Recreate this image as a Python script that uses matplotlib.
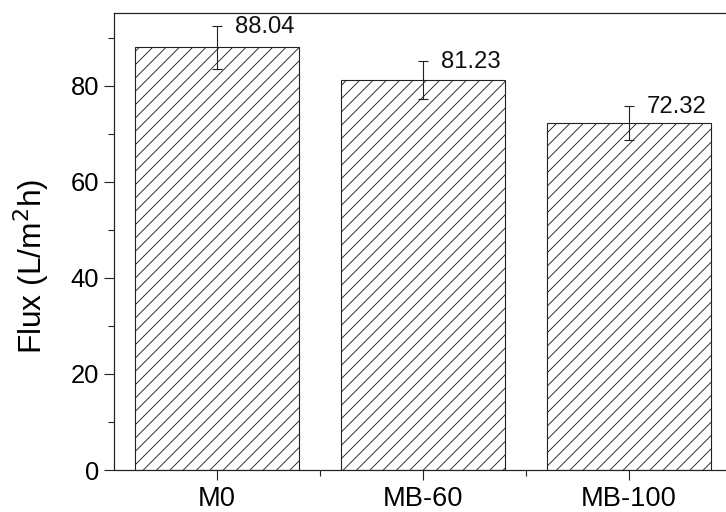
import matplotlib
matplotlib.use("Agg")
import matplotlib.pyplot as plt
from matplotlib.ticker import MultipleLocator, FixedLocator
import numpy as np

samples = ["M0", "MB-60", "MB-100"]
flux = [88.04, 81.23, 72.32]
flux_err = [4.5, 4.0, 3.5]
value_labels = ["88.04", "81.23", "72.32"]

plt.rcParams["font.family"] = ["Liberation Sans", "DejaVu Sans"]
plt.rcParams["hatch.linewidth"] = 0.8

DPI = 80
fig = plt.figure(figsize=(726 / DPI, 512 / DPI), dpi=DPI)
ax = fig.add_axes([114 / 726, 42 / 512, 618 / 726, 457 / 512])

x = np.arange(len(samples))
ax.bar(x, flux, width=0.8, color="white", edgecolor="#222222",
       linewidth=1.0, hatch="//", zorder=2)
ax.errorbar(x, flux, yerr=flux_err, fmt="none", ecolor="#222222",
            elinewidth=1.0, capsize=4.2, capthick=1.0, zorder=3)

for xi, v, e, lab in zip(x, flux, flux_err, value_labels):
    ax.text(xi + 0.085, v + e - 0.3, lab, ha="left", va="center",
            fontsize=21.5, color="#111111", zorder=4)

ax.set_xlim(-0.5, 2.5)
ax.set_ylim(0, 95.2)
ax.set_xticks(x)
ax.set_xticklabels(samples, fontsize=24.5)
ax.xaxis.set_minor_locator(FixedLocator([0.5, 1.5]))
ax.yaxis.set_major_locator(MultipleLocator(20))
ax.yaxis.set_minor_locator(MultipleLocator(10))
ax.tick_params(axis="both", which="major", direction="out", length=9,
               width=1.0, color="#222222")
ax.tick_params(axis="y", which="major", labelsize=23, pad=4.5)
ax.tick_params(axis="both", which="minor", direction="out", length=5,
               width=1.0, color="#222222")
ax.tick_params(axis="x", which="major", pad=5)
ax.set_ylabel("Flux (L/m$^2$h)", fontsize=28.5)
ax.yaxis.set_label_coords(-0.102, 0.446)
for s in ax.spines.values():
    s.set_linewidth(1.1)
    s.set_color("#222222")

fig.savefig("out.png", dpi=DPI)
